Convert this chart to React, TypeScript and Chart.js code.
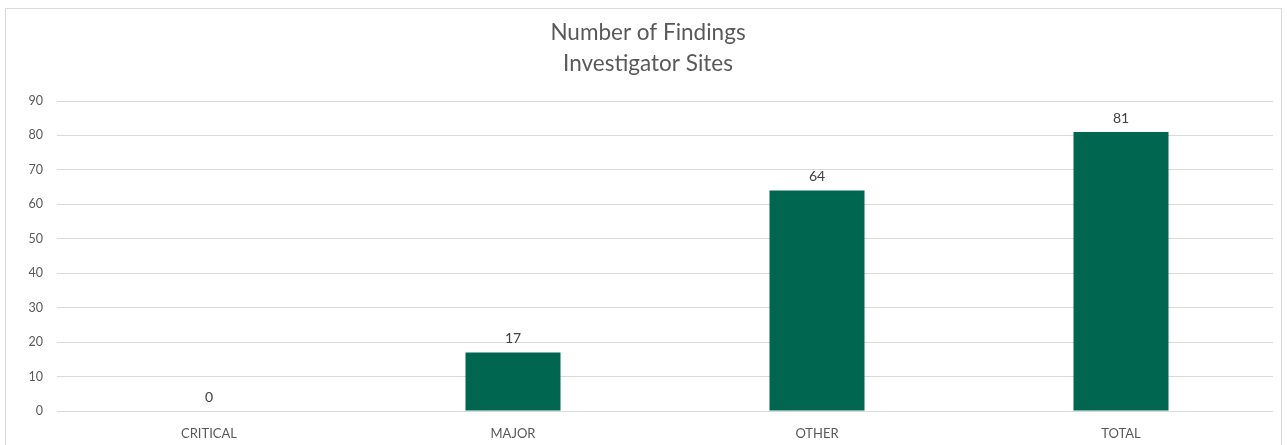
import React, { useEffect, useRef } from "react";
import { Chart, registerables } from "chart.js";

Chart.register(...registerables);

const categories = ["CRITICAL", "MAJOR", "OTHER", "TOTAL"];
const findings = [0, 17, 64, 81];
const titleLines = ["Number of Findings", "Investigator Sites"];

const FONT = "Lato, 'Open Sans', sans-serif";

const frame = {
  id: "frame",
  beforeDraw(chart: any) {
    const ctx = chart.ctx;
    ctx.save();
    ctx.fillStyle = "#ffffff";
    ctx.fillRect(0, 0, chart.width, chart.height);
    ctx.strokeStyle = "#d9d9d9";
    ctx.lineWidth = 1;
    ctx.strokeRect(5.5, 8.5, 1276, 460);
    ctx.font = `22.5px ${FONT}`;
    ctx.fillStyle = "#595959";
    ctx.textAlign = "center";
    ctx.textBaseline = "middle";
    titleLines.forEach((t, i) => ctx.fillText(t, 648, 33 + i * 31));
    ctx.restore();
  },
};

const valueLabels = {
  id: "valueLabels",
  afterDatasetsDraw(chart: any) {
    const ctx = chart.ctx;
    const meta = chart.getDatasetMeta(0);
    ctx.save();
    ctx.font = `14px ${FONT}`;
    ctx.fillStyle = "#404040";
    ctx.textAlign = "center";
    ctx.textBaseline = "middle";
    meta.data.forEach((bar: any, i: number) => {
      ctx.fillText(String(findings[i]), bar.x, bar.y - 14);
    });
    ctx.restore();
  },
};

export default function App() {
  const ref = useRef<HTMLCanvasElement | null>(null);
  useEffect(() => {
    if (!ref.current) return;
    const chart = new Chart(ref.current, {
      type: "bar",
      data: {
        labels: categories,
        datasets: [
          {
            data: findings,
            backgroundColor: "#00664f",
            borderWidth: 0,
            barPercentage: 0.3125,
            categoryPercentage: 1,
          },
        ],
      },
      options: {
        animation: false,
        responsive: false,
        maintainAspectRatio: false,
        layout: { padding: { left: 0, right: 14, top: 101, bottom: 0 } },
        plugins: {
          legend: { display: false },
          tooltip: { enabled: false },
          title: { display: false },
        },
        scales: {
          x: {
            grid: { display: false, drawTicks: false },
            border: { display: false },
            ticks: {
              color: "#595959",
              font: { family: FONT, size: 13 },
              padding: 15,
              maxRotation: 0,
            },
            afterFit(scale: any) {
              scale.height = 34;
            },
          },
          y: {
            min: 0,
            max: 90,
            grid: { color: "#d9d9d9", lineWidth: 1, drawTicks: false },
            border: { display: false },
            ticks: {
              stepSize: 10,
              color: "#595959",
              font: { family: FONT, size: 12.5 },
              padding: 14,
            },
            afterFit(scale: any) {
              scale.width = 57;
            },
          },
        },
      },
      plugins: [frame, valueLabels],
    });
    return () => chart.destroy();
  }, []);
  return (
    <div style={{ position: "fixed", left: 0, top: 0, width: 1287, height: 445 }}>
      <canvas ref={ref} width={1287} height={445} style={{ display: "block" }} />
    </div>
  );
}
